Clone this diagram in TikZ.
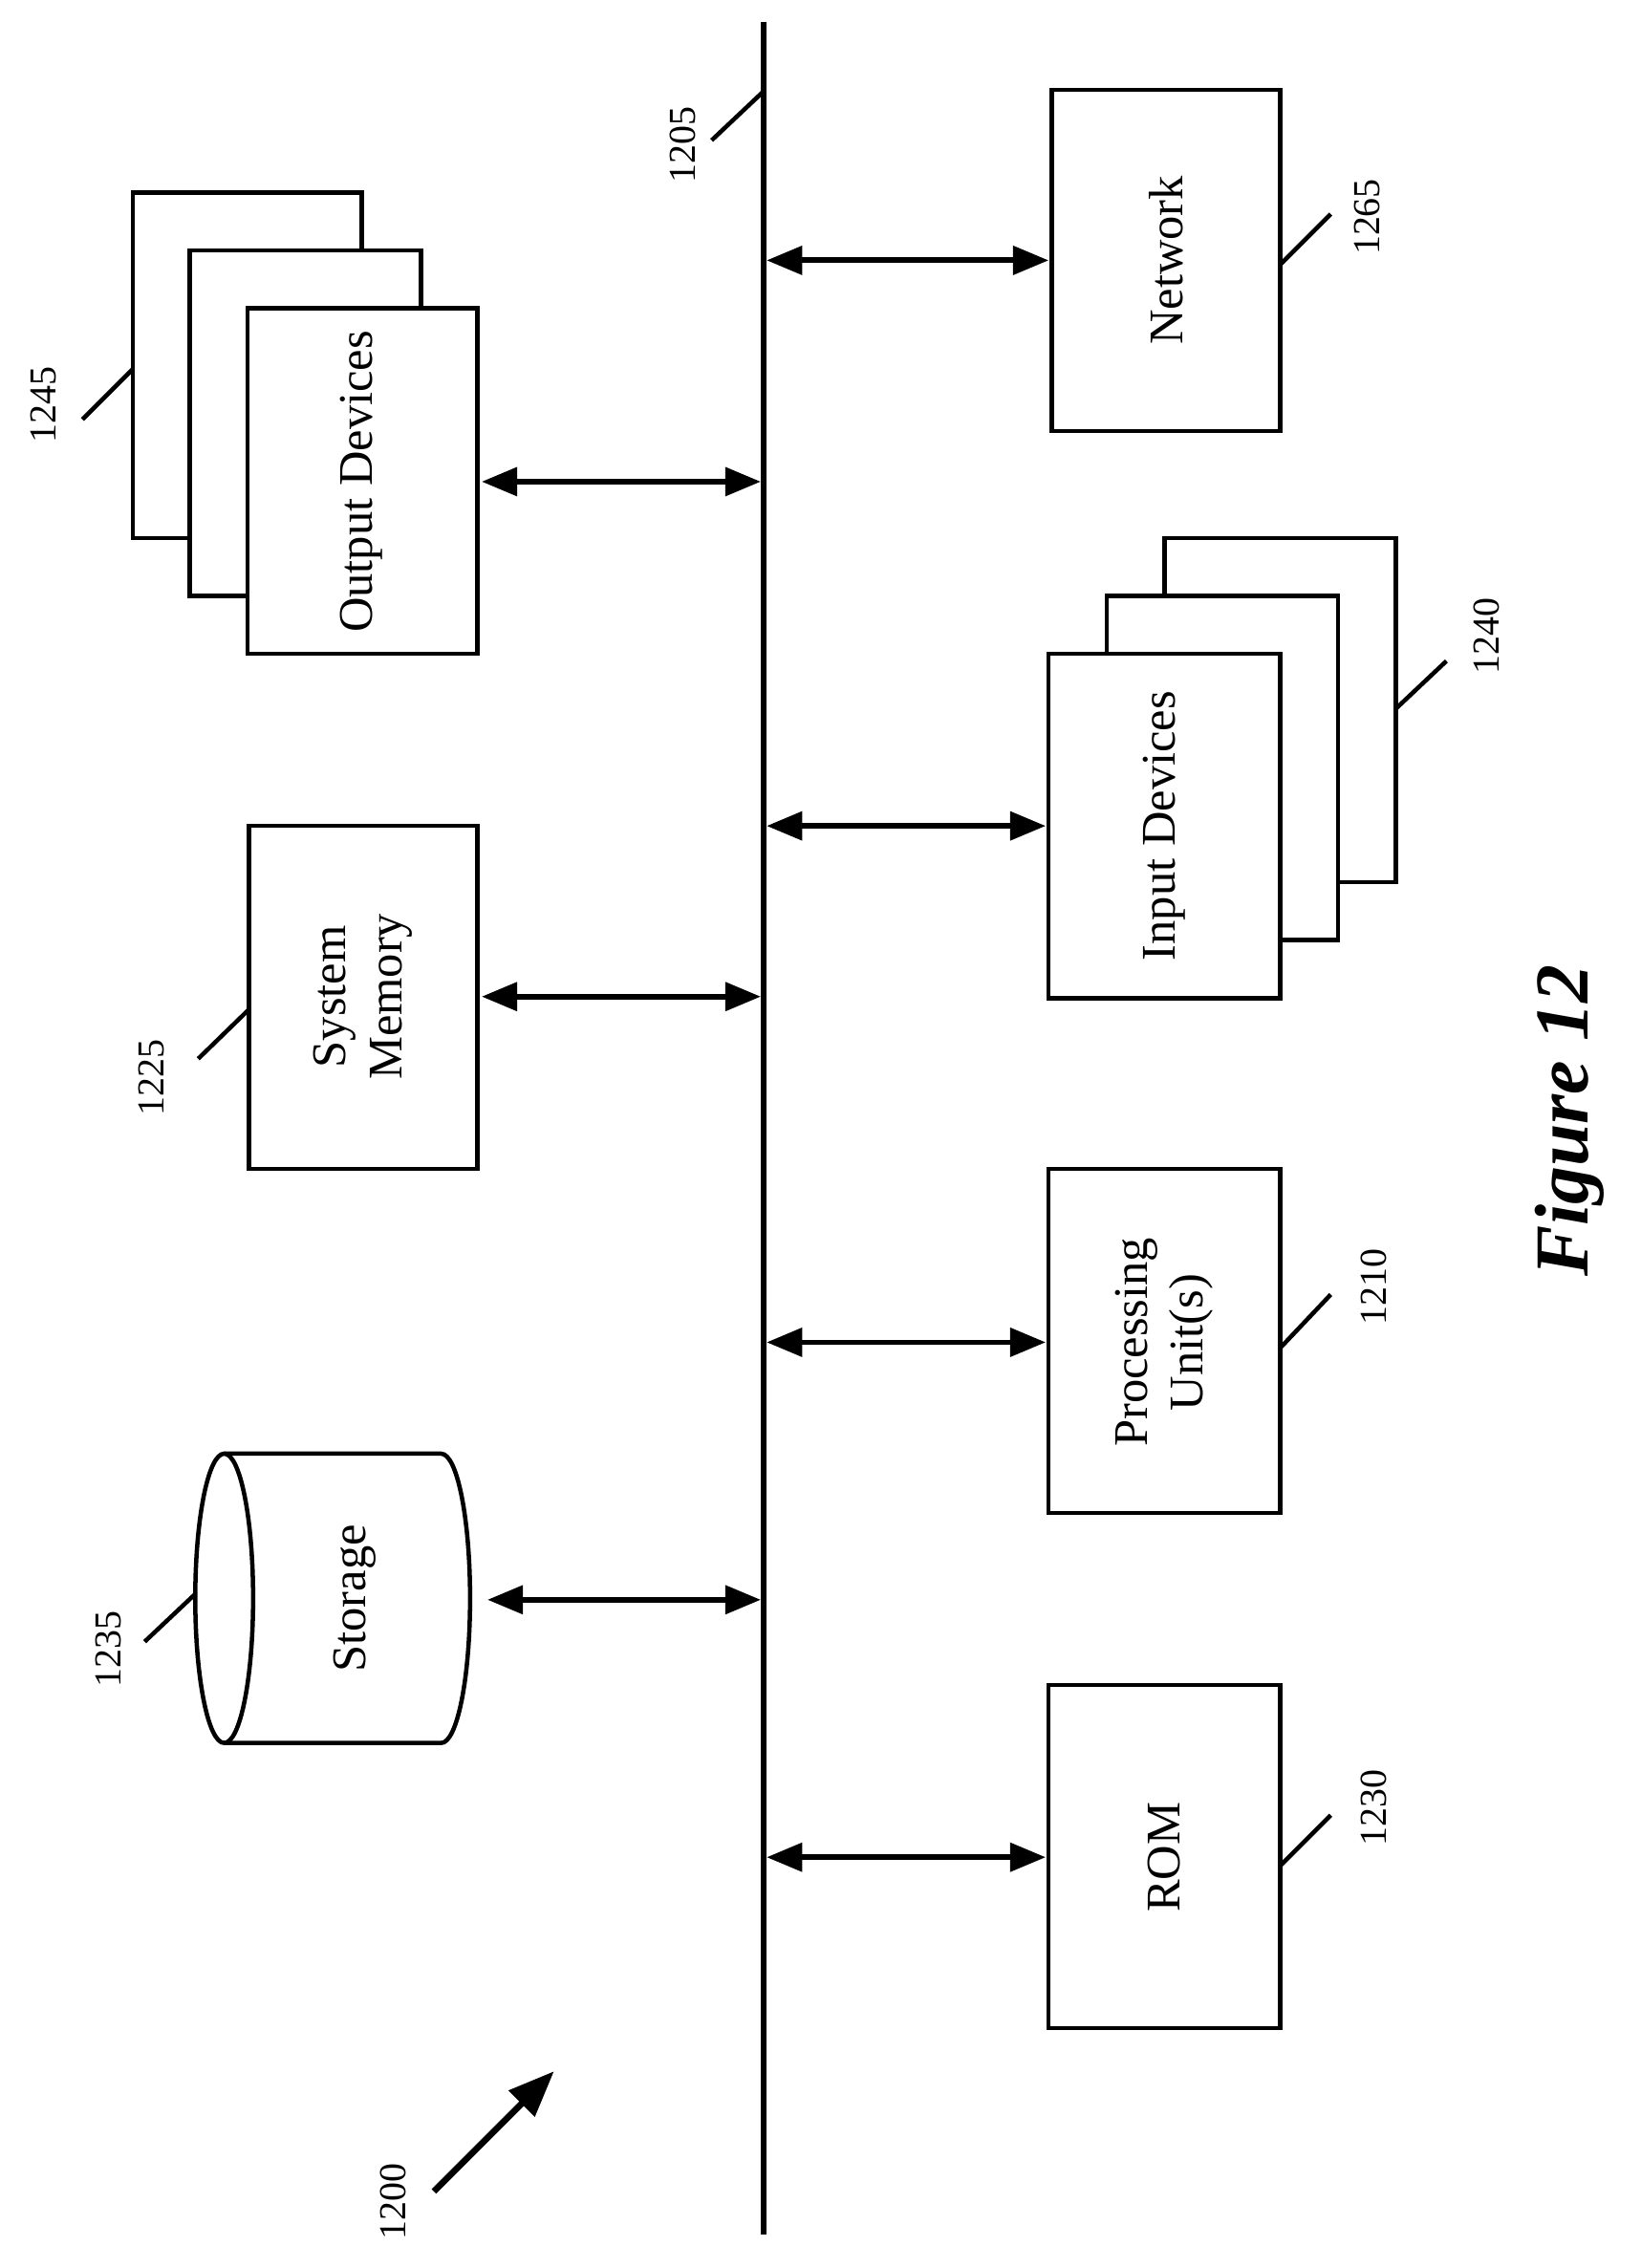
\documentclass[tikz,border=0pt]{standalone}
\usepackage{fontspec}
\setmainfont{Liberation Serif}
\usetikzlibrary{arrows.meta}
\begin{document}
\begin{tikzpicture}[x=0.02cm,y=-0.02cm,
  box/.style={draw,line width=1.7pt,fill=white},
  lbl/.style={rotate=90,font=\fontsize{19}{22}\selectfont,align=center},
  num/.style={rotate=90,font=\fontsize{15}{18}\selectfont},
  lead/.style={line width=1.7pt},
  conn/.style={line width=2.2pt,{Triangle[length=14pt,width=11pt]}-{Triangle[length=14pt,width=11pt]}}]
\useasboundingbox (0,0) rectangle (1134,1568);
% bus
\coordinate (bt) at (528,15); \coordinate (bb) at (528,1545);
\draw[line width=2.2pt] (bt) -- (bb);
\node[num] (n1205) at (472,100) {1205};
\coordinate (l1205a) at (492,97); \coordinate (l1205b) at (527,64);
\draw[lead] (l1205a) -- (l1205b);
% Network
\draw[box] (727,62) rectangle (885,298);
\node[lbl] (net) at (806,180) {Network};
\draw[conn] (530,180) -- (725,180);
\node[num] (n1265) at (945,150) {1265};
\draw[lead] (885,183) -- (920,148);
% Output devices
\draw[box] (92,133) rectangle (250,372);
\draw[box] (131,173) rectangle (291,412);
\draw[box] (171,213) rectangle (330,452);
\node[lbl] (out) at (250,333) {Output Devices};
\draw[conn] (333,333) -- (526,333);
\node[num] (n1245) at (30,280) {1245};
\draw[lead] (57,290) -- (92,255);
% Input devices
\draw[box] (805,372) rectangle (965,610);
\draw[box] (765,412) rectangle (925,650);
\draw[box] (725,452) rectangle (885,690);
\node[lbl] (in) at (805,571) {Input Devices};
\draw[conn] (530,571) -- (723,571);
\node[num] (n1240) at (1028,440) {1240};
\draw[lead] (965,490) -- (1000,457);
% System memory
\draw[box] (172,571) rectangle (330,808);
\node[lbl] (mem) at (251,689) {System\\Memory};
\draw[conn] (333,689) -- (526,689);
\node[num] (n1225) at (105,745) {1225};
\draw[lead] (137,732) -- (172,698);
% Figure
\node[rotate=90,font=\fontsize{30}{34}\selectfont\bfseries\itshape] (fig) at (1085,775) {Figure 12};
% Processing
\draw[box] (725,808) rectangle (885,1046);
\node[lbl] (proc) at (805,928) {Processing\\Unit(s)};
\draw[conn] (530,928) -- (723,928);
\node[num] (n1210) at (950,890) {1210};
\draw[lead] (885,932) -- (920,895);
% Storage
\draw[line width=1.7pt] (155,1005) -- (305,1005) arc[start angle=-90,end angle=90,x radius=20,y radius=100] -- (155,1205);
\draw[line width=1.7pt] (155,1105) ellipse[x radius=20,y radius=100];
\node[lbl] (sto) at (245,1105) {Storage};
\draw[conn] (337,1106) -- (526,1106);
\node[num] (n1235) at (75,1140) {1235};
\draw[lead] (100,1135) -- (135,1102);
% ROM
\draw[box] (725,1165) rectangle (885,1402);
\node[lbl] (rom) at (805,1284) {ROM};
\draw[conn] (530,1284) -- (723,1284);
\node[num] (n1230) at (950,1250) {1230};
\draw[lead] (885,1290) -- (920,1255);
% 1200
\node[num] (n1200) at (272,1522) {1200};
\coordinate (a1) at (300,1515); \coordinate (a2) at (383,1432);
\draw[line width=2.5pt,-{Triangle[length=18pt,width=14pt]}] (a1) -- (a2);
\end{tikzpicture}
\end{document}
